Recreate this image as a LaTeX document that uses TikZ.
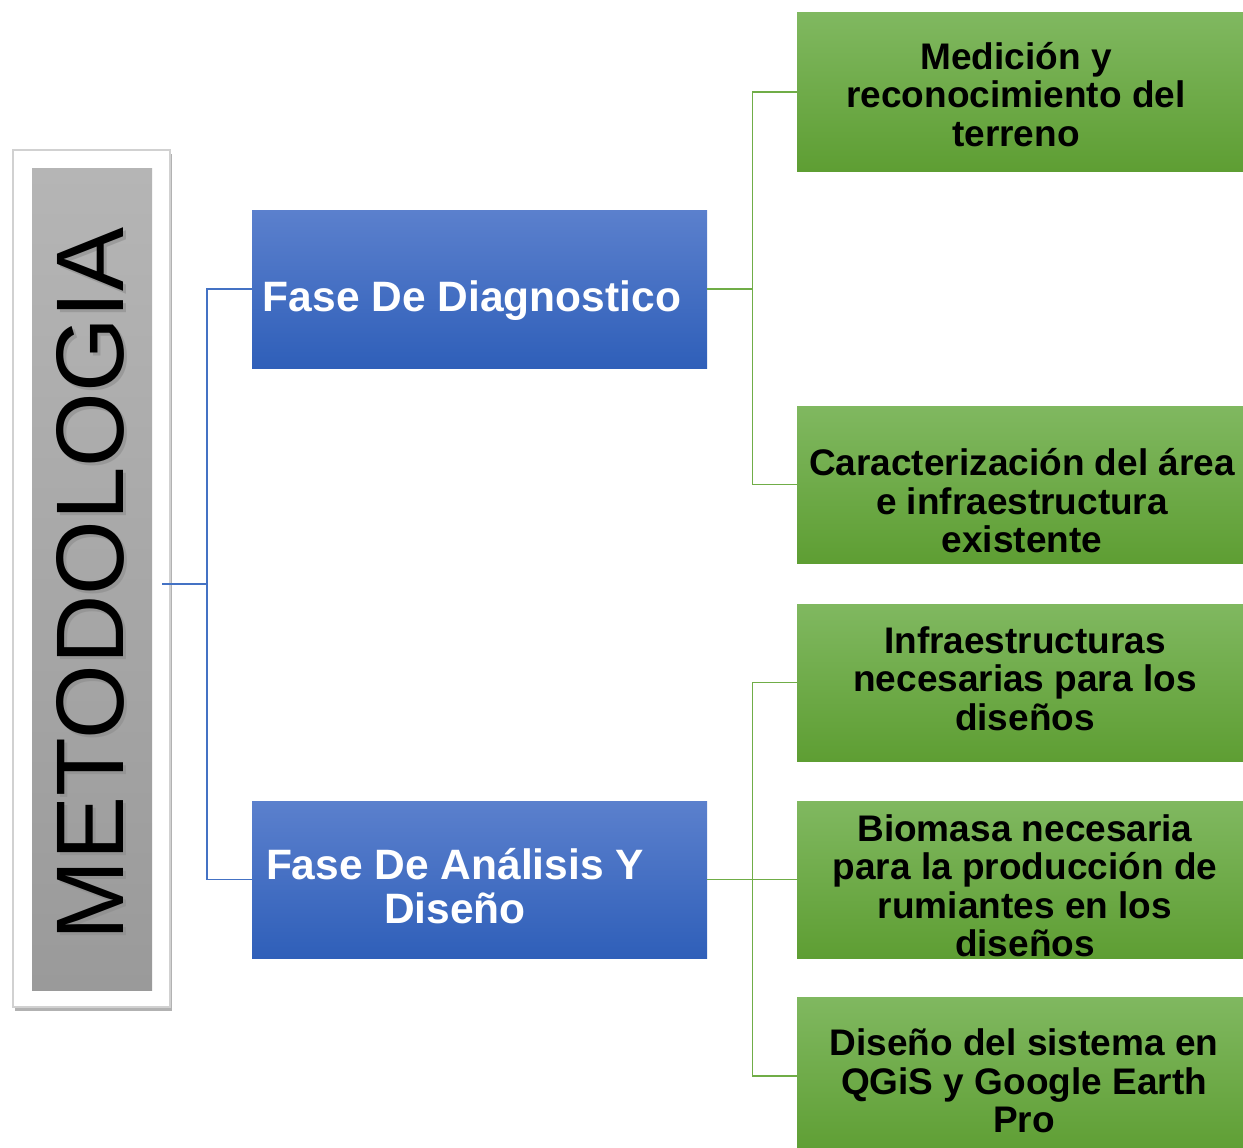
\documentclass[tikz,border=0pt]{standalone}
\usepackage{fontspec}
\setmainfont{Liberation Sans}
\usetikzlibrary{shadows}
\definecolor{blueA}{HTML}{5B80CD}
\definecolor{blueB}{HTML}{2F5FB9}
\definecolor{greenA}{HTML}{80B860}
\definecolor{greenB}{HTML}{5E9E33}
\definecolor{grayA}{HTML}{B5B5B5}
\definecolor{grayB}{HTML}{9A9A9A}
\definecolor{blueline}{HTML}{4472C4}
\definecolor{greenline}{HTML}{70AD47}
\begin{document}
\begin{tikzpicture}[x=1pt,y=-1pt,
  bluebox/.style={rectangle, minimum width=455, minimum height=158, top color=blueA, bottom color=blueB, inner sep=0},
  greenbox/.style={rectangle, minimum width=446, minimum height=158, top color=greenA, bottom color=greenB, inner sep=0},
  gtext/.style={font=\bfseries\fontsize{37}{38.5}\selectfont, align=center, text=black, inner sep=0},
  btext/.style={font=\bfseries\fontsize{42.5}{44}\selectfont, align=center, text=white, inner sep=0},
  bl/.style={draw=blueline, line width=1.2},
  gl/.style={draw=greenline, line width=1.2}]
\useasboundingbox (0,0) rectangle (1243,1148);
% METODOLOGIA frame
\node[draw=black!18, fill=white, line width=1.5, minimum width=157, minimum height=857, inner sep=0,
      drop shadow={shadow xshift=2pt, shadow yshift=-4pt, opacity=0.5, fill=black!60}] (frame) at (91.5,578.5) {};
\node[minimum width=120, minimum height=822, inner sep=0, top color=grayA, bottom color=grayB] (graybox) at (92,579) {};
\node[rotate=90, font=\fontsize{96}{96}\selectfont, text=black!45, opacity=0.6] (metashadow) at (93,587) {METODOLOGIA};
\node[rotate=90, font=\fontsize{96}{96}\selectfont, text=black] (meta) at (90,584) {METODOLOGIA};
% blue boxes
\node[bluebox] (fd) at (479.5,289) {};
\node[btext] (fdt) at (472,301) {Fase De Diagnostico};
\node[bluebox, minimum height=157] (fa) at (479.5,879.5) {};
\node[btext] (fat) at (455,886) {Fase De Análisis Y\\Diseño};
% green boxes
\node[greenbox] (g1) at (1020,92) {};
\node[greenbox, minimum height=157] (g2) at (1020,484.5) {};
\node[greenbox, minimum height=157] (g3) at (1020,682.5) {};
\node[greenbox, minimum height=157] (g4) at (1020,879.5) {};
\node[greenbox] (g5) at (1020,1076) {};
\node[gtext] (g1t) at (1016,94.5) {Medición y\\reconocimiento del\\terreno};
\node[gtext] (g2t) at (1022,501) {Caracterización del área\\e infraestructura\\existente};
\node[gtext] (g3t) at (1025,678.5) {Infraestructuras\\necesarias para los\\diseños};
\node[gtext] (g4t) at (1025,886) {Biomasa necesaria\\para la producción de\\rumiantes en los\\diseños};
\node[gtext] (g5t) at (1024,1081) {Diseño del sistema en\\QGiS y Google Earth\\Pro};
% connectors
\coordinate (ms) at (162,584);
\coordinate (mj) at (207,584);
\draw[bl] (ms) -- (mj);
\draw[bl] (mj) |- (fd.west);
\draw[bl] (mj) |- (fa.west);
\draw[gl] (fd.east) -- ++(45,0) coordinate (gj1);
\draw[gl] (gj1) |- (g1.west);
\draw[gl] (gj1) |- (g2.west);
\draw[gl] (fa.east) -- ++(45,0) coordinate (gj2);
\draw[gl] (gj2) |- (g3.west);
\draw[gl] (gj2) |- (g4.west);
\draw[gl] (gj2) |- (g5.west);
\end{tikzpicture}
\end{document}
